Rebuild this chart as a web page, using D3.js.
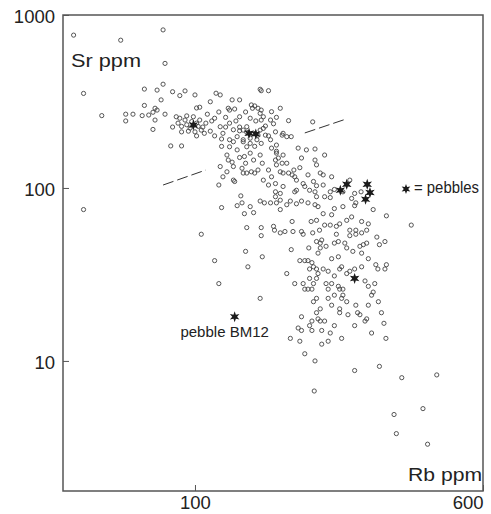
<!DOCTYPE html>
<html><head><meta charset="utf-8">
<script src="https://cdn.jsdelivr.net/npm/d3@7"></script>
<style>
html,body{margin:0;padding:0;background:#fff;}
svg{display:block;font-family:"Liberation Sans",Arial,Helvetica,sans-serif;}
</style></head><body>
<svg id="chart" width="491" height="514"></svg>
<script>
// Granitoid samples: [Rb ppm, Sr ppm]
const samples = [
[47,765],[82,820],[63,715],[83,525],[50,352],[56,262],[73,373],[79,368],[82,398],[81,323],
[87,360],[91,342],[94,364],[100,345],[73,300],[78,289],[79,282],[65,267],[68,267],[65,244],
[72,262],[75,264],[77,274],[83,267],[78,247],[77,218],[86,175],[92,175],[116,275],[114,353],
[117,345],[110,315],[103,293],[101,290],[126,323],[132,323],[123,289],[124,282],[118,174],[122,155],
[123,145],[117,133],[119,116],[127,111],[128,109],[116,104],[89,258],[90,237],[92,227],[94,247],
[95,232],[97,222],[98,242],[99,258],[101,237],[102,227],[103,247],[104,216],[106,207],[107,237],
[100,211],[92,211],[113,253],[117,226],[119,207],[124,237],[127,217],[130,198],[132,258],[138,226],
[135,190],[124,190],[150,372],[151,365],[158,365],[142,302],[145,298],[143,289],[148,289],[151,282],
[150,270],[161,276],[170,289],[166,256],[153,258],[151,247],[160,247],[163,235],[179,245],[208,241],
[132,225],[135,216],[138,210],[144,207],[148,202],[150,216],[153,221],[155,202],[165,211],[172,202],
[177,198],[182,198],[173,207],[135,185],[141,181],[147,190],[151,181],[160,190],[161,170],[166,177],
[190,170],[211,168],[224,155],[145,174],[141,159],[136,152],[150,155],[166,159],[173,155],[165,145],
[166,136],[194,149],[192,131],[211,145],[213,136],[134,130],[137,139],[135,122],[148,127],[145,122],
[138,122],[142,124],[172,139],[170,124],[173,122],[179,122],[183,119],[186,116],[188,111],[218,122],
[222,119],[153,111],[161,116],[165,106],[158,104],[173,102],[165,95],[170,93],[186,95],[188,97],
[198,102],[204,97],[211,95],[213,103],[222,104],[232,95],[224,89],[232,88],[262,111],[251,95],
[270,93],[265,87],[281,95],[50,75],[133,90],[134,82],[130,79],[118,77],[136,71],[138,59],
[104,54],[137,43],[113,38],[139,35],[116,28],[144,72],[151,59],[151,53],[152,40],[150,23],
[177,80],[154,82],[160,82],[166,82],[170,75],[181,84],[188,81],[194,84],[202,82],[213,89],
[211,80],[215,78],[238,76],[251,78],[270,79],[303,75],[329,69],[384,61],[183,64],[163,60],
[164,57],[170,55],[175,56],[184,56],[194,56],[196,54],[206,64],[213,65],[222,71],[234,70],
[208,55],[217,57],[224,61],[232,61],[241,60],[246,62],[257,65],[265,68],[262,57],[282,64],
[294,62],[272,57],[282,55],[291,57],[262,53],[272,54],[241,54],[213,49],[218,48],[220,50],
[218,45],[215,42],[182,44],[203,45],[226,46],[238,48],[244,49],[254,48],[257,45],[267,43],
[279,46],[285,47],[291,48],[282,42],[294,39],[310,52],[315,47],[326,49],[234,39],[244,40],
[249,35],[192,38],[198,38],[202,38],[207,37],[204,34],[209,35],[213,34],[177,32],[222,34],
[229,33],[238,31],[246,34],[257,32],[262,33],[270,34],[282,35],[308,36],[312,34],[326,34],
[329,36],[204,30],[213,30],[215,32],[186,28],[196,28],[198,26],[202,26],[207,26],[209,28],
[226,28],[229,26],[234,28],[244,27],[246,26],[251,26],[288,29],[294,27],[306,28],[213,23],
[229,23],[238,24],[251,24],[257,22],[249,23],[209,22],[218,20],[234,21],[246,20],[272,21],
[294,21],[300,24],[303,25],[313,22],[213,19],[207,17],[204,16],[215,17.5],[218,17],[194,18],
[224,17],[238,16],[246,19],[259,18.5],[275,19],[279,18.5],[291,17.5],[270,16],[288,17],[319,19],
[324,16.5],[190,15.5],[194,15],[181,13.5],[192,13],[207,15],[220,15],[232,14.5],[220,12.5],[229,13],
[249,13.5],[300,14.5],[328,13.5],[198,11],[211,10],[270,8.8],[315,9.3],[362,8],[450,8.3],[210,6.7],
[413,5.3],[345,4.9],[350,3.8],[425,3.3],[91,253],[96,213],[105,225],[110,213],[111,244],[95,261],
[87,225],[101,200],[108,267],[113,200],[121,256],[129,244],[121,225],[132,214],[118,192],[127,185],
[141,253],[146,244],[155,228],[158,200],[128,286],[137,275],[141,194],[130,166],[138,173],[124,173],
[132,150],[144,145],[126,141],[152,139],[158,127],[122,124],[127,133],[141,78],[150,84],[165,89],
[170,85],[166,163],[168,149],[177,139],[185,127],[200,166],[234,116],[196,106],[202,119],[209,109],
[238,98],[272,82]
];

// Pebbles: [Rb ppm, Sr ppm]
const pebbles = [[257,105],[247,97],[292,105],[297,94],[289,86],[270,30],[99,231],[140,207],[146,205]];
const pebbleBM12 = [128, 18];

// Dashed divide, drawn as two pieces: [[Rb, Sr], [Rb, Sr]]
const divideSegments = [
  [[82,104],[107,127]],
  [[198,208],[257,251]]
];

const xTickValues = [100, 600];
const yTickValues = [10, 100, 1000];
const xTitle = "Rb ppm";
const yTitle = "Sr ppm";
const legendText = "= pebbles";
const bm12Label = "pebble BM12";

const svg = d3.select("#chart");
const frame = {left: 63, top: 15, right: 483, bottom: 491};
const x = d3.scaleLog().domain([44, 600]).range([frame.left, frame.right]);
const y = d3.scaleLog().domain([1.77, 1000]).range([frame.bottom, frame.top]);

const ink = "#222";
const fontFamily = '"Liberation Sans", Arial, sans-serif';

// six-pointed star centred at the origin
function starPath(R, r) {
  const pts = [];
  for (let i = 0; i < 12; i++) {
    const a = -Math.PI / 2 + i * Math.PI / 6;
    const rad = i % 2 === 0 ? R : r;
    pts.push([rad * Math.cos(a), rad * Math.sin(a)]);
  }
  return "M" + pts.map(p => p[0].toFixed(2) + "," + p[1].toFixed(2)).join("L") + "Z";
}

// frame
svg.append("rect")
  .attr("x", frame.left).attr("y", frame.top)
  .attr("width", frame.right - frame.left).attr("height", frame.bottom - frame.top)
  .attr("fill", "none").attr("stroke", "#555").attr("stroke-width", 1.5);

// axes with inward ticks
const yAxis = d3.axisLeft(y).tickValues(yTickValues).tickFormat(d3.format("d"))
  .tickSize(-6).tickPadding(8);
svg.append("g").attr("transform", `translate(${frame.left},0)`).call(yAxis)
  .call(g => g.select(".domain").remove())
  .call(g => g.selectAll(".tick line").attr("stroke", "#555"))
  .call(g => g.selectAll(".tick text").attr("font-size", 18.5).attr("font-family", fontFamily)
    .attr("fill", ink).attr("dy", "0.42em"));

const xAxis = d3.axisBottom(x).tickValues(xTickValues).tickFormat(d3.format("d"))
  .tickSize(-6).tickPadding(5);
svg.append("g").attr("transform", `translate(0,${frame.bottom})`).call(xAxis)
  .call(g => g.select(".domain").remove())
  .call(g => g.selectAll(".tick line").attr("stroke", "#555"))
  .call(g => g.selectAll(".tick text").attr("font-size", 18.5).attr("font-family", fontFamily)
    .attr("fill", ink)
    .attr("text-anchor", d => d === 600 ? "end" : "middle"));

// axis titles inside the frame
svg.append("text").attr("x", 71).attr("y", 67).attr("font-size", 19).attr("fill", ink)
  .attr("textLength", 70).attr("lengthAdjust", "spacingAndGlyphs").text(yTitle);
svg.append("text").attr("x", 408).attr("y", 481).attr("font-size", 19).attr("fill", ink)
  .attr("textLength", 74).attr("lengthAdjust", "spacingAndGlyphs").text(xTitle);

// dashed divide
const line = d3.line().x(d => x(d[0])).y(d => y(d[1]));
svg.append("g").selectAll("path").data(divideSegments).join("path")
  .attr("d", line).attr("fill", "none").attr("stroke", "#333")
  .attr("stroke-width", 1).attr("stroke-dasharray", "11,4");

// sample circles
svg.append("g").selectAll("circle").data(samples).join("circle")
  .attr("cx", d => x(d[0])).attr("cy", d => y(d[1])).attr("r", 2.1)
  .attr("fill", "none").attr("stroke", "#444").attr("stroke-width", 0.9);

// pebble stars
const star = starPath(5.5, 2.4);
svg.append("g").selectAll("path").data(pebbles.concat([pebbleBM12])).join("path")
  .attr("d", star).attr("transform", d => `translate(${x(d[0])},${y(d[1])})`)
  .attr("fill", "#1a1a1a");

// BM12 label
svg.append("text").attr("x", x(pebbleBM12[0]) - 10).attr("y", y(pebbleBM12[1]) + 20)
  .attr("font-size", 15).attr("fill", ink).attr("text-anchor", "middle").text(bm12Label);

// legend
svg.append("path").attr("d", starPath(5, 2.2)).attr("transform", "translate(406,189)")
  .attr("fill", "#1a1a1a");
svg.append("text").attr("x", 414).attr("y", 193).attr("font-size", 16).attr("fill", ink)
  .attr("textLength", 65).attr("lengthAdjust", "spacingAndGlyphs").text(legendText);
</script>
</body></html>
